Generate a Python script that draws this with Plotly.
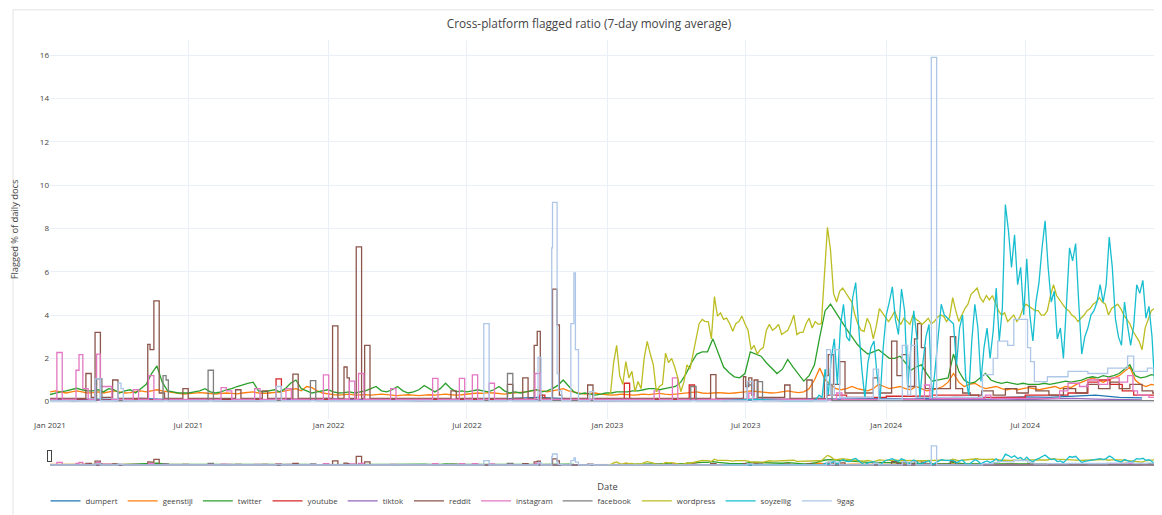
import pandas as pd
import plotly.graph_objects as go

# ---------------- data ----------------
names = ["dumpert", "geenstijl", "twitter", "youtube", "tiktok", "reddit",
         "instagram", "facebook", "wordpress", "soyzellig", "9gag"]
colors = ["#1f77b4", "#ff7f0e", "#2ca02c", "#d62728", "#9467bd", "#8c564b",
          "#e377c2", "#7f7f7f", "#bcbd22", "#17becf", "#aec7e8"]

# monthly series (first of month, Jan 2021 .. Dec 2024)
dumpert_vals = [0.08, 0.1, 0.12, 0.1, 0.15, 0.1, 0.08, 0.08, 0.1, 0.08, 0.1, 0.12,
                0.1, 0.08, 0.1, 0.08, 0.1, 0.1, 0.12, 0.1, 0.15, 0.2, 0.15, 0.1,
                0.1, 0.08, 0.1, 0.12, 0.1, 0.08, 0.1, 0.12, 0.1, 0.15, 0.12, 0.15,
                0.15, 0.12, 0.15, 0.2, 0.18, 0.2, 0.22, 0.2, 0.25, 0.3, 0.2, 0.18]
tiktok_vals = [0.1, 0.05, 0.08, 0.05, 0.06, 0.05, 0.05, 0.06, 0.05, 0.05, 0.08, 0.1,
               0.15, 0.1, 0.08, 0.05, 0.05, 0.06, 0.05, 0.05, 0.06, 0.08, 0.05, 0.05,
               0.05, 0.05, 0.06, 0.05, 0.05, 0.05, 0.06, 0.05, 0.08, 0.1, 0.08, 0.1,
               0.1, 0.08, 0.1, 0.12, 0.1, 0.08, 0.1, 0.12, 0.15, 0.12, 0.1, 0.08]

# weekly series (every 7 days from 2021-01-01)
geenstijl_vals = [
    0.45, 0.5, 0.45, 0.4, 0.45, 0.5, 0.45, 0.4, 0.42, 0.45,
    0.4, 0.45, 0.5, 0.45, 0.4, 0.42, 0.45, 0.5, 0.45, 0.5,
    0.55, 0.5, 0.45, 0.4, 0.38, 0.35, 0.38, 0.4, 0.42, 0.4,
    0.38, 0.35, 0.38, 0.4, 0.38, 0.36, 0.4, 0.42, 0.45, 0.4,
    0.38, 0.4, 0.42, 0.45, 0.5, 0.55, 0.6, 0.5, 0.7, 0.65,
    0.5, 0.4, 0.35, 0.33, 0.3, 0.32, 0.35, 0.3, 0.32, 0.33,
    0.3, 0.32, 0.35, 0.33, 0.3, 0.28, 0.3, 0.32, 0.3, 0.28,
    0.3, 0.32, 0.3, 0.33, 0.35, 0.32, 0.3, 0.32, 0.35, 0.38,
    0.4, 0.38, 0.42, 0.4, 0.38, 0.35, 0.38, 0.4, 0.42, 0.45,
    0.5, 0.55, 0.5, 0.45, 0.5, 0.55, 0.6, 0.5, 0.45, 0.4,
    0.35, 0.38, 0.4, 0.35, 0.32, 0.3, 0.32, 0.35, 0.33, 0.3,
    0.32, 0.35, 0.33, 0.35, 0.38, 0.35, 0.33, 0.35, 0.38, 0.4,
    0.42, 0.45, 0.4, 0.38, 0.4, 0.42, 0.4, 0.38, 0.4, 0.42,
    0.45, 0.5, 0.48, 0.45, 0.42, 0.4, 0.42, 0.45, 0.5, 0.45,
    0.42, 0.45, 0.6, 1.0, 1.55, 1.0, 0.8, 0.6, 0.55, 0.6,
    0.7, 0.6, 0.55, 0.5, 0.6, 0.8, 0.7, 0.6, 0.65, 0.7,
    0.6, 0.55, 0.7, 0.6, 0.5, 0.55, 0.6, 0.7, 0.9, 1.3,
    0.9, 0.7, 0.8, 0.85, 0.7, 0.6, 0.65, 0.7, 0.6, 0.55,
    0.6, 0.55, 0.6, 0.65, 0.6, 0.55, 0.6, 0.65, 0.7, 0.6,
    0.7, 0.65, 0.8, 0.9, 1.0, 1.1, 1.0, 0.9, 1.0, 1.1,
    1.2, 1.4, 1.6, 1.0, 0.8, 0.7, 0.8, 0.75, 0.7]
twitter_vals = [
    0.33, 0.4, 0.45, 0.5, 0.55, 0.62, 0.55, 0.5, 0.5, 0.55,
    0.45, 0.6, 0.55, 0.4, 0.5, 0.55, 0.4, 0.6, 0.8, 1.3,
    1.65, 0.9, 0.5, 0.45, 0.4, 0.4, 0.4, 0.45, 0.5, 0.6,
    0.45, 0.4, 0.45, 0.55, 0.6, 0.7, 0.78, 0.85, 0.9, 0.5,
    0.45, 0.5, 0.55, 0.45, 0.6, 0.85, 1.0, 0.6, 0.5, 0.4,
    0.45, 0.5, 0.55, 0.45, 0.4, 0.42, 0.45, 0.4, 0.45, 0.5,
    0.6, 0.7, 0.5, 0.45, 0.55, 0.7, 0.5, 0.4, 0.45, 0.55,
    0.75, 0.6, 0.45, 0.6, 0.85, 0.6, 0.45, 0.5, 0.45, 0.5,
    0.55, 0.5, 0.45, 0.55, 0.7, 0.5, 0.4, 0.45, 0.4, 0.45,
    0.5, 0.55, 0.45, 0.5, 0.6, 0.75, 1.0, 0.7, 0.45, 0.35,
    0.4, 0.35, 0.3, 0.35, 0.4, 0.4, 0.45, 0.45, 0.45, 0.5,
    0.5, 0.55, 0.6, 0.6, 0.55, 0.6, 0.65, 0.7, 0.9, 1.3,
    1.8, 2.2, 2.3, 2.3, 2.9, 2.2, 1.6, 1.35, 1.15, 1.1,
    1.3, 2.3, 2.2, 2.1, 1.8, 1.55, 1.3, 1.5, 1.95, 1.6,
    1.3, 0.95, 1.2, 1.7, 3.0, 4.2, 4.5, 4.1, 3.7, 3.35,
    3.0, 2.65, 2.4, 2.2, 2.3, 2.4, 2.2, 2.0, 2.0, 2.1,
    1.8, 1.45, 1.6, 1.7, 1.3, 0.95, 1.0, 1.05, 1.1, 2.2,
    1.4, 1.0, 0.85, 0.9, 1.1, 1.3, 1.0, 0.9, 0.85, 0.9,
    0.85, 0.8, 0.85, 0.8, 0.8, 0.8, 0.85, 0.8, 0.85, 0.9,
    0.95, 0.9, 0.95, 1.0, 1.1, 1.15, 1.1, 1.2, 1.15, 1.2,
    1.3, 1.5, 1.7, 1.2, 1.1, 1.15, 1.25, 1.2, 1.25]

# 4-day series from 2023-01-01
wordpress_vals = [
    0.3, 0.4, 1.8, 2.6, 1.2, 0.8, 1.85, 1.1, 1.4, 0.46,
    0.93, 0.6, 2.0, 2.78, 2.2, 1.7, 0.46, 0.7, 0.8, 2.24,
    1.8, 2.0, 1.6, 1.1, 0.46, 0.9, 1.7, 1.5, 2.2, 3.0,
    3.6, 3.8, 3.7, 3.7, 2.9, 4.85, 3.95, 4.1, 3.8, 3.86,
    3.6, 3.25, 3.6, 3.7, 3.95, 3.6, 3.3, 2.4, 2.6, 2.2,
    2.4, 2.5, 3.3, 3.57, 3.3, 3.4, 3.57, 3.1, 3.2, 3.3,
    3.6, 4.0, 3.1, 3.2, 3.2, 3.6, 3.85, 3.4, 3.7, 3.57,
    3.6, 6.0, 8.05, 7.0, 5.0, 4.6, 5.1, 5.25, 5.0, 4.8,
    4.6, 4.0, 3.57, 3.3, 3.25, 3.85, 3.57, 2.9, 3.5, 4.3,
    4.1, 3.9, 3.7, 3.9, 4.18, 3.8, 3.57, 3.85, 3.7, 3.57,
    4.0, 3.8, 3.7, 3.57, 3.7, 3.85, 3.6, 3.7, 3.9, 4.0,
    3.95, 3.7, 3.9, 4.8, 4.2, 3.7, 4.0, 4.3, 4.5, 4.96,
    5.1, 5.25, 4.8, 4.6, 4.9, 4.7, 4.9, 4.5, 4.2, 4.0,
    4.1, 3.7, 3.85, 4.0, 3.7, 3.9, 4.3, 4.5, 4.4, 4.3,
    4.2, 4.2, 4.0, 4.0, 4.2, 4.9, 5.4, 4.9, 4.7, 4.5,
    4.3, 4.2, 4.0, 3.9, 3.7, 3.85, 4.0, 4.2, 4.3, 4.5,
    4.6, 4.8, 4.6, 4.5, 4.0, 4.3, 4.4, 4.5, 4.3, 4.0,
    3.8, 3.6, 3.25, 3.0, 2.8, 2.4, 3.4, 3.8, 4.2, 4.3,
    4.0, 3.6, 3.7]

# soyzellig: quiet lead-in, then 4-day series from 2023-10-01
soy_lead_dates = ["2023-06-01", "2023-07-15", "2023-08-20", "2023-09-27"]
soy_lead_vals = [0.05, 0.1, 0.05, 0.05]
soyzellig_vals = [
    0.1, 0.3, 0.2, 1.5, 0.3, 2.0, 2.9, 0.8, 3.5, 4.5,
    3.0, 2.8, 4.8, 5.5, 3.4, 1.5, 0.15, 1.8, 2.5, 2.8,
    1.2, 0.15, 2.5, 4.0, 4.6, 5.3, 3.8, 3.1, 5.2, 4.2,
    0.6, 2.5, 4.2, 3.0, 0.15, 1.8, 3.0, 3.57, 0.15, 1.5,
    3.0, 4.5, 4.0, 3.86, 3.7, 3.6, 1.7, 3.4, 4.0, 1.1,
    0.3, 2.8, 4.5, 3.4, 0.93, 2.5, 3.4, 2.0, 3.25, 5.25,
    2.8, 4.3, 9.1, 7.9, 6.2, 7.7, 5.4, 6.2, 4.0, 6.6,
    4.0, 2.8, 4.6, 5.5, 7.1, 8.35, 6.2, 4.6, 5.1, 2.9,
    3.4, 2.0, 4.5, 7.1, 6.5, 7.3, 4.6, 2.2, 3.0, 3.4,
    4.0, 4.2, 4.6, 5.4, 4.6, 5.4, 7.6, 6.2, 3.86, 3.0,
    2.6, 4.6, 3.5, 2.6, 3.5, 5.4, 5.0, 5.6, 3.86, 4.4,
    3.0, 0.46, 1.55, 2.0, 3.25]

# step series (value holds until next date)
youtube_dates = ["2021-01-01", "2021-10-24", "2021-10-31", "2022-10-04", "2022-10-11",
                 "2023-01-23", "2023-01-30", "2023-04-18", "2023-04-25", "2023-10-15",
                 "2023-11-10", "2024-01-01", "2024-03-01", "2024-05-01", "2024-07-01",
                 "2024-08-26", "2024-09-21", "2024-10-05", "2024-10-20", "2024-11-05",
                 "2024-11-20", "2024-12-31"]
youtube_vals = [0.08, 1.05, 0.1, 0.3, 0.1, 0.85, 0.1, 0.77, 0.1, 0.3,
                0.2, 0.25, 0.3, 0.2, 0.3, 0.4, 0.9, 1.0, 0.8, 0.5, 0.3, 0.2]

reddit_dates = ["2021-01-01", "2021-02-17", "2021-02-24", "2021-03-01", "2021-03-08",
                "2021-03-24", "2021-03-31", "2021-05-09", "2021-05-12", "2021-05-17",
                "2021-05-24", "2021-05-31", "2021-06-24", "2021-07-01", "2021-09-01",
                "2021-09-08", "2021-10-06", "2021-10-13", "2021-11-15", "2021-11-22",
                "2022-01-06", "2022-01-13", "2022-01-21", "2022-01-25", "2022-01-28",
                "2022-02-06", "2022-02-13", "2022-02-17", "2022-02-24", "2022-06-10",
                "2022-06-17", "2022-08-23", "2022-08-30", "2022-09-12", "2022-09-19",
                "2022-09-27", "2022-10-01", "2022-10-05", "2022-10-08", "2022-10-21",
                "2022-10-27", "2022-10-30", "2022-11-02", "2022-12-06", "2022-12-13",
                "2023-05-16", "2023-05-23", "2023-06-28", "2023-07-01", "2023-07-05",
                "2023-07-09", "2023-07-12", "2023-07-17", "2023-08-21", "2023-08-28",
                "2023-09-19", "2023-09-26", "2023-10-12", "2023-10-17", "2023-10-24",
                "2023-11-01", "2023-11-08", "2023-12-15", "2023-12-22", "2024-01-08",
                "2024-01-15", "2024-01-22", "2024-01-29", "2024-02-07", "2024-02-11",
                "2024-02-16", "2024-02-21", "2024-03-25", "2024-04-01", "2024-04-10",
                "2024-04-20", "2024-05-05", "2024-05-20", "2024-06-05", "2024-06-20",
                "2024-07-05", "2024-07-15", "2024-08-01", "2024-08-20", "2024-09-05",
                "2024-09-20", "2024-10-05", "2024-10-20", "2024-11-01", "2024-11-15",
                "2024-12-01", "2024-12-15", "2024-12-31"]
reddit_vals = [0.15, 1.3, 0.2, 3.2, 0.2, 1.0, 0.15, 2.65, 2.4, 4.65,
               0.4, 0.15, 0.6, 0.15, 0.55, 0.15, 0.5, 0.15, 1.27, 0.15,
               3.5, 0.15, 1.6, 1.1, 0.15, 7.15, 0.15, 2.6, 0.15, 0.5,
               0.15, 0.8, 0.15, 1.1, 0.15, 2.6, 3.25, 0.3, 0.15, 5.2,
               3.55, 0.3, 0.15, 0.77, 0.15, 1.25, 0.15, 1.15, 0.7, 1.1,
               0.3, 1.0, 0.2, 0.77, 0.15, 1.0, 0.15, 1.2, 2.17, 0.8,
               1.85, 0.4, 1.1, 0.4, 2.8, 1.2, 2.17, 0.7, 2.9, 3.6,
               2.5, 0.6, 3.0, 0.6, 0.4, 0.3, 0.5, 0.3, 0.6, 0.4,
               0.7, 0.5, 0.3, 0.6, 0.4, 0.8, 0.6, 0.9, 0.6, 0.8,
               0.5, 0.4, 0.35]

instagram_dates = ["2021-01-01", "2021-01-10", "2021-01-17", "2021-02-04", "2021-02-08",
                   "2021-02-13", "2021-02-20", "2021-03-01", "2021-03-03", "2021-03-08",
                   "2021-03-16", "2021-03-23", "2021-04-20", "2021-04-27", "2021-05-10",
                   "2021-05-17", "2021-08-13", "2021-08-20", "2021-08-27", "2021-09-26",
                   "2021-10-03", "2021-11-06", "2021-11-13", "2021-12-25", "2022-01-01",
                   "2022-01-28", "2022-02-04", "2022-02-09", "2022-02-16", "2022-03-23",
                   "2022-03-30", "2022-05-17", "2022-05-24", "2022-06-21", "2022-06-28",
                   "2022-07-08", "2022-07-15", "2022-07-30", "2022-08-06", "2022-09-28",
                   "2022-10-05", "2023-03-03", "2023-03-10", "2023-03-27", "2023-04-03",
                   "2023-07-05", "2023-07-12", "2023-10-28", "2023-11-04", "2024-02-20",
                   "2024-02-27", "2024-05-10", "2024-05-17", "2024-08-15", "2024-08-26",
                   "2024-09-10", "2024-09-21", "2024-10-05", "2024-10-17", "2024-11-01",
                   "2024-11-12", "2024-11-19", "2024-11-25", "2024-12-10", "2024-12-31"]
instagram_vals = [0.1, 2.27, 0.1, 1.45, 2.17, 0.6, 0.1, 0.77, 2.2, 0.7,
                  0.7, 0.1, 0.55, 0.1, 1.2, 0.1, 0.65, 0.5, 0.1, 0.6,
                  0.1, 0.6, 0.1, 1.24, 0.1, 0.95, 0.1, 1.3, 0.1, 0.6,
                  0.1, 1.08, 0.1, 1.08, 0.1, 1.24, 0.1, 0.85, 0.1, 1.3,
                  0.1, 0.5, 0.1, 1.1, 0.1, 0.4, 0.1, 0.4, 0.1, 0.77,
                  0.15, 0.3, 0.15, 0.5, 0.85, 0.7, 1.0, 0.8, 1.1, 0.9,
                  1.2, 0.5, 0.3, 0.2, 0.2]

facebook_dates = ["2021-01-01", "2021-03-03", "2021-03-10", "2021-05-29", "2021-06-02",
                  "2021-06-05", "2021-07-27", "2021-08-03", "2021-12-08", "2021-12-15",
                  "2022-08-23", "2022-08-30", "2023-04-20", "2023-04-27", "2023-07-03",
                  "2023-07-10", "2023-07-16", "2023-07-23", "2023-10-15", "2023-10-22",
                  "2024-12-31"]
facebook_vals = [0.05, 1.05, 0.05, 1.2, 1.0, 0.05, 1.45, 0.05, 0.97, 0.05,
                 1.3, 0.05, 0.7, 0.05, 0.77, 0.05, 0.93, 0.05, 0.8, 0.05, 0.05]

ninegag_dates = ["2021-01-01", "2021-03-01", "2021-03-08", "2021-03-31", "2021-04-04",
                 "2021-04-07", "2021-10-24", "2021-10-31", "2022-07-23", "2022-07-30",
                 "2022-10-02", "2022-10-06", "2022-10-20", "2022-10-21", "2022-10-27",
                 "2022-10-29", "2022-11-02", "2022-11-14", "2022-11-18", "2022-11-20",
                 "2022-11-24", "2022-12-09", "2022-12-14", "2023-07-03", "2023-07-10",
                 "2023-10-15", "2023-10-20", "2023-10-25", "2023-11-01", "2023-12-15",
                 "2023-12-22", "2024-01-22", "2024-01-29", "2024-02-02", "2024-02-09",
                 "2024-02-29", "2024-03-07", "2024-05-06", "2024-05-20", "2024-05-26",
                 "2024-06-08", "2024-06-16", "2024-07-04", "2024-07-08", "2024-07-13",
                 "2024-07-30", "2024-08-26", "2024-09-21", "2024-10-17", "2024-11-12",
                 "2024-11-20", "2024-12-08", "2024-12-31"]
ninegag_vals = [0.05, 1.05, 0.05, 0.85, 0.6, 0.05, 0.7, 0.05, 3.6, 0.05,
                2.05, 0.05, 7.1, 9.2, 1.3, 0.5, 0.05, 3.6, 5.95, 2.4,
                0.05, 0.46, 0.05, 0.93, 0.05, 2.4, 0.3, 2.4, 0.2, 1.5,
                0.1, 2.6, 0.3, 2.6, 0.2, 15.9, 0.2, 1.25, 2.0, 2.8,
                2.6, 3.8, 2.5, 1.85, 0.93, 1.15, 1.4, 1.3, 1.55, 2.1,
                1.4, 1.55, 1.6]

# ---------------- build ----------------
monthly_x = pd.date_range("2021-01-01", periods=48, freq="MS")
weekly_x = pd.date_range("2021-01-01", periods=len(twitter_vals), freq="7D")
wp_x = pd.date_range("2023-01-01", periods=len(wordpress_vals), freq="4D")
soy_x = list(pd.to_datetime(soy_lead_dates)) + list(
    pd.date_range("2023-10-01", periods=len(soyzellig_vals), freq="4D"))
soy_y = soy_lead_vals + soyzellig_vals

series = {
    "dumpert": (monthly_x, dumpert_vals, "linear"),
    "geenstijl": (pd.date_range("2021-01-01", periods=len(geenstijl_vals), freq="7D"),
                  geenstijl_vals, "linear"),
    "twitter": (weekly_x, twitter_vals, "linear"),
    "youtube": (pd.to_datetime(youtube_dates), youtube_vals, "hv"),
    "tiktok": (monthly_x, tiktok_vals, "linear"),
    "reddit": (pd.to_datetime(reddit_dates), reddit_vals, "hv"),
    "instagram": (pd.to_datetime(instagram_dates), instagram_vals, "hv"),
    "facebook": (pd.to_datetime(facebook_dates), facebook_vals, "hv"),
    "wordpress": (wp_x, wordpress_vals, "linear"),
    "soyzellig": (soy_x, soy_y, "linear"),
    "9gag": (pd.to_datetime(ninegag_dates), ninegag_vals, "hv"),
}

fig = go.Figure()
for name, color in zip(names, colors):
    x, y, shape = series[name]
    fig.add_trace(go.Scatter(x=x, y=y, mode="lines", name=name,
                             line=dict(color=color, width=1.3, shape=shape)))

# card frame around the whole chart (paper coords of plot area 42..1157 x 40..417)
PW, PH = 1115.0, 377.0
fig.add_shape(type="rect", xref="paper", yref="paper", layer="below",
              x0=(5 - 42) / PW, x1=(1160 - 42) / PW,
              y0=(417 - 540) / PH, y1=(417 - 10) / PH,
              line=dict(color="#e3e3e3", width=1), fillcolor="rgba(0,0,0,0)")

fig.update_layout(
    template="plotly_white",
    width=1162, height=515,
    margin=dict(l=42, r=5, t=32, b=57),
    font=dict(family="Open Sans, verdana, arial, sans-serif", size=8, color="#444"),
    title=dict(text="Cross-platform flagged ratio (7-day moving average)",
               x=0.5, xanchor="center", y=1 - 16 / 515, yanchor="middle",
               font=dict(size=11.8, color="#444")),
    legend=dict(orientation="h", x=-0.004, xanchor="left", y=-0.178, yanchor="top",
                font=dict(size=7.8)),
    xaxis=dict(title=dict(text="Date", font=dict(size=9.3)), type="date",
               automargin=False,
               range=["2021-01-01", "2024-12-31"],
               rangeslider=dict(visible=True, thickness=0.05)),
    yaxis=dict(title=dict(text="Flagged % of daily docs", font=dict(size=9.3),
                          standoff=20),
               automargin=True,
               range=[-0.8, 16.7], dtick=2),
)

fig.write_html("out.html")
